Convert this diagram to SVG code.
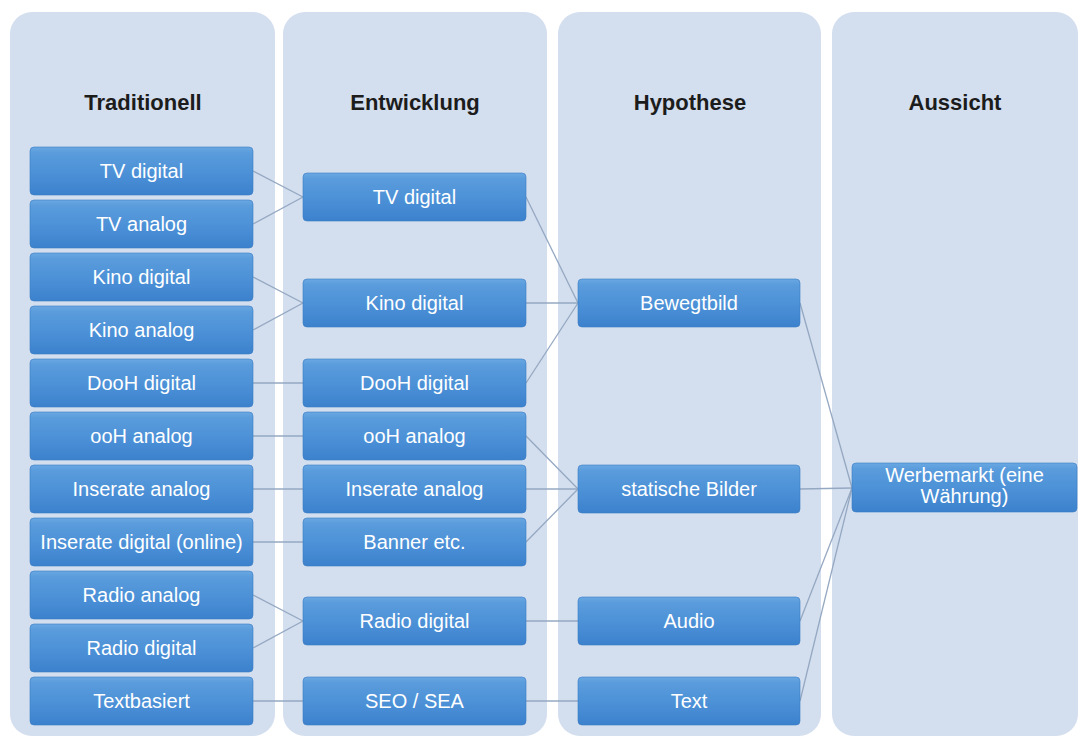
<svg xmlns="http://www.w3.org/2000/svg" width="1082" height="740" viewBox="0 0 1082 740">
<defs>
<linearGradient id="nodeGrad" x1="0" y1="0" x2="0" y2="1">
<stop offset="0" stop-color="#6aa8e2"/>
<stop offset="0.12" stop-color="#5a9cdc"/>
<stop offset="0.6" stop-color="#4a8fd6"/>
<stop offset="1" stop-color="#3b81cc"/>
</linearGradient>
<style>
.lane{fill:#d3deee;}
.hdr{font-family:"Liberation Sans",Arial,sans-serif;font-weight:bold;font-size:22px;fill:#1c1c1c;text-anchor:middle;}
.node rect{fill:url(#nodeGrad);stroke:#3a7cc2;stroke-width:0.6;}
.node text{font-family:"Liberation Sans",Arial,sans-serif;font-size:20px;fill:#ffffff;text-anchor:middle;}
.conn line{stroke:#95a8c2;stroke-width:1.3;}
</style>
</defs>
<rect width="1082" height="740" fill="#ffffff"/>
<g id="lanes">
<rect class="lane" x="10" y="12" width="265" height="724" rx="22"/>
<rect class="lane" x="283" y="12" width="264" height="724" rx="22"/>
<rect class="lane" x="558" y="12" width="263" height="724" rx="22"/>
<rect class="lane" x="832" y="12" width="246" height="724" rx="22"/>
<text class="hdr" x="143" y="110">Traditionell</text>
<text class="hdr" x="415" y="110">Entwicklung</text>
<text class="hdr" x="690" y="110">Hypothese</text>
<text class="hdr" x="955" y="110">Aussicht</text>
</g>
<g id="connectors" class="conn">
<line x1="253" y1="171" x2="303" y2="197"/>
<line x1="253" y1="224" x2="303" y2="197"/>
<line x1="253" y1="277" x2="303" y2="303"/>
<line x1="253" y1="330" x2="303" y2="303"/>
<line x1="253" y1="383" x2="303" y2="383"/>
<line x1="253" y1="436" x2="303" y2="436"/>
<line x1="253" y1="489" x2="303" y2="489"/>
<line x1="253" y1="542" x2="303" y2="542"/>
<line x1="253" y1="595" x2="303" y2="621"/>
<line x1="253" y1="648" x2="303" y2="621"/>
<line x1="253" y1="701" x2="303" y2="701"/>
<line x1="526" y1="197" x2="578" y2="303"/>
<line x1="526" y1="303" x2="578" y2="303"/>
<line x1="526" y1="383" x2="578" y2="303"/>
<line x1="526" y1="436" x2="578" y2="489"/>
<line x1="526" y1="489" x2="578" y2="489"/>
<line x1="526" y1="542" x2="578" y2="489"/>
<line x1="526" y1="621" x2="578" y2="621"/>
<line x1="526" y1="701" x2="578" y2="701"/>
<line x1="800" y1="303" x2="852" y2="488"/>
<line x1="800" y1="489" x2="852" y2="488"/>
<line x1="800" y1="621" x2="852" y2="488"/>
<line x1="800" y1="701" x2="852" y2="488"/>
</g>
<g id="t1" class="node"><rect x="30" y="147" width="223" height="48" rx="4"/><text x="141.5" y="178">TV digital</text></g>
<g id="t2" class="node"><rect x="30" y="200" width="223" height="48" rx="4"/><text x="141.5" y="231">TV analog</text></g>
<g id="t3" class="node"><rect x="30" y="253" width="223" height="48" rx="4"/><text x="141.5" y="284">Kino digital</text></g>
<g id="t4" class="node"><rect x="30" y="306" width="223" height="48" rx="4"/><text x="141.5" y="337">Kino analog</text></g>
<g id="t5" class="node"><rect x="30" y="359" width="223" height="48" rx="4"/><text x="141.5" y="390">DooH digital</text></g>
<g id="t6" class="node"><rect x="30" y="412" width="223" height="48" rx="4"/><text x="141.5" y="443">ooH analog</text></g>
<g id="t7" class="node"><rect x="30" y="465" width="223" height="48" rx="4"/><text x="141.5" y="496">Inserate analog</text></g>
<g id="t8" class="node"><rect x="30" y="518" width="223" height="48" rx="4"/><text x="141.5" y="549">Inserate digital (online)</text></g>
<g id="t9" class="node"><rect x="30" y="571" width="223" height="48" rx="4"/><text x="141.5" y="602">Radio analog</text></g>
<g id="t10" class="node"><rect x="30" y="624" width="223" height="48" rx="4"/><text x="141.5" y="655">Radio digital</text></g>
<g id="t11" class="node"><rect x="30" y="677" width="223" height="48" rx="4"/><text x="141.5" y="708">Textbasiert</text></g>
<g id="e1" class="node"><rect x="303" y="173" width="223" height="48" rx="4"/><text x="414.5" y="204">TV digital</text></g>
<g id="e2" class="node"><rect x="303" y="279" width="223" height="48" rx="4"/><text x="414.5" y="310">Kino digital</text></g>
<g id="e3" class="node"><rect x="303" y="359" width="223" height="48" rx="4"/><text x="414.5" y="390">DooH digital</text></g>
<g id="e4" class="node"><rect x="303" y="412" width="223" height="48" rx="4"/><text x="414.5" y="443">ooH analog</text></g>
<g id="e5" class="node"><rect x="303" y="465" width="223" height="48" rx="4"/><text x="414.5" y="496">Inserate analog</text></g>
<g id="e6" class="node"><rect x="303" y="518" width="223" height="48" rx="4"/><text x="414.5" y="549">Banner etc.</text></g>
<g id="e7" class="node"><rect x="303" y="597" width="223" height="48" rx="4"/><text x="414.5" y="628">Radio digital</text></g>
<g id="e8" class="node"><rect x="303" y="677" width="223" height="48" rx="4"/><text x="414.5" y="708">SEO / SEA</text></g>
<g id="h1" class="node"><rect x="578" y="279" width="222" height="48" rx="4"/><text x="689" y="310">Bewegtbild</text></g>
<g id="h2" class="node"><rect x="578" y="465" width="222" height="48" rx="4"/><text x="689" y="496">statische Bilder</text></g>
<g id="h3" class="node"><rect x="578" y="597" width="222" height="48" rx="4"/><text x="689" y="628">Audio</text></g>
<g id="h4" class="node"><rect x="578" y="677" width="222" height="48" rx="4"/><text x="689" y="708">Text</text></g>
<g id="a1" class="node"><rect x="852" y="463" width="225" height="49" rx="4"/><text x="964.5" y="482">Werbemarkt (eine</text><text x="964.5" y="503">Währung)</text></g>
</svg>
